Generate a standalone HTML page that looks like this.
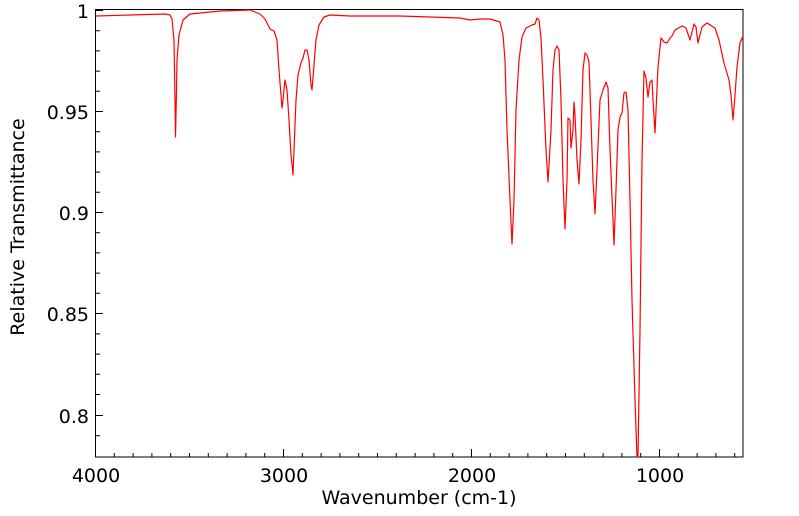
<!DOCTYPE html>
<html><head><meta charset="utf-8"><style>
html,body{margin:0;padding:0;background:#fff;}
svg{display:block;font-family:"DejaVu Sans","Liberation Sans",sans-serif;}
</style></head><body>
<svg width="799" height="516" viewBox="0 0 799 516" xmlns="http://www.w3.org/2000/svg">
<rect x="95.5" y="9.5" width="647.5" height="447.5" fill="none" stroke="#000" stroke-width="1"/>
<path d="M96 16 L130 15 L165 14 L170 15 L172 19 L174 40 L175 100 L175.5 137 L176.5 90 L177 60 L179 35 L183 20 L190 14 L220 11 L250 10 L260 14 L265 19 L270 29 L274 31 L277 40 L279 70 L282 108 L283 100 L285 80 L287 90 L289 120 L291 155 L293 175 L294 150 L296 100 L298 75 L301 63 L303 58 L305 50 L307 50 L309 60 L311 85 L312 90 L314 65 L316 40 L319 25 L324 17 L330 15 L350 16 L400 16 L460 18 L470 20 L480 19 L490 19 L500 22 L503 35 L505 60 L507 130 L510 200 L512 244 L514 200 L516 110 L519 60 L522 37 L526 28 L532 25 L535 24 L537 18 L539 20 L541 38 L543 80 L546 150 L548 182 L551 130 L553 70 L555 50 L557 46 L559 50 L561 100 L563 180 L565 229 L567 180 L568 118 L570 120 L571 148 L573 130 L574 102 L575 115 L577 160 L579 184 L581 140 L583 70 L585 53 L587 55 L589 62 L591 120 L593 180 L595 214 L597 170 L600 100 L603 90 L606 82 L608 88 L610 150 L613 220 L614 245 L616 190 L618 130 L620 117 L622 113 L624 93 L626 92 L628 110 L630 200 L632 300 L635 400 L637 457 L638 457 L640 330 L642 160 L644 71 L646 78 L648 97 L650 82 L652 80 L653 100 L655 133 L656.5 100 L658 67 L661 38 L664 42 L667 43 L670 38 L672 36 L675 30 L682 26 L686 28 L690 40 L694 24 L696 27 L698 43 L702 27 L707 23 L715 28 L719 40 L724 63 L729 80 L731 95 L733 120 L735 95 L737 67 L740 43 L743 36" fill="none" stroke="#ff0000" stroke-width="1.2" stroke-linejoin="round"/>
<g stroke="#000" stroke-width="1">
<path d="M95.5 457 v-8 M283.5 457 v-8 M471.5 457 v-8 M659.5 457 v-8
M114.3 457v-4 M133.1 457v-4 M151.9 457v-4 M170.7 457v-4 M189.5 457v-4 M208.3 457v-4 M227.1 457v-4 M245.9 457v-4 M264.7 457v-4
M302.3 457v-4 M321.1 457v-4 M339.9 457v-4 M358.7 457v-4 M377.5 457v-4 M396.3 457v-4 M415.1 457v-4 M433.9 457v-4 M452.7 457v-4
M490.3 457v-4 M509.1 457v-4 M527.9 457v-4 M546.7 457v-4 M565.5 457v-4 M584.3 457v-4 M603.1 457v-4 M621.9 457v-4 M640.7 457v-4
M678.3 457v-4 M697.1 457v-4 M715.9 457v-4 M734.7 457v-4"/>
<path d="M95 10.5 h8 M95 111.5 h8 M95 212.5 h8 M95 313.5 h8 M95 415.5 h8
M95 30.7h5 M95 50.9h5 M95 71.1h5 M95 91.3h5 M95 131.7h5 M95 151.9h5 M95 172.1h5 M95 192.3h5
M95 232.7h5 M95 252.9h5 M95 273.1h5 M95 293.3h5 M95 333.9h5 M95 354.1h5 M95 374.3h5 M95 394.5h5 M95 435.7h5"/>
</g>
<g font-size="19" fill="#000" text-anchor="end">
<text x="89" y="18">1</text>
<text x="89" y="119">0.95</text>
<text x="89" y="220">0.9</text>
<text x="89" y="321">0.85</text>
<text x="89" y="423">0.8</text>
</g>
<g font-size="19" fill="#000" text-anchor="middle">
<text x="96" y="482">4000</text>
<text x="284" y="482">3000</text>
<text x="472" y="482">2000</text>
<text x="660" y="482">1000</text>
<text x="419" y="504">Wavenumber (cm-1)</text>
<text transform="translate(24,227) rotate(-90)">Relative Transmittance</text>
</g>
</svg>
</body></html>
